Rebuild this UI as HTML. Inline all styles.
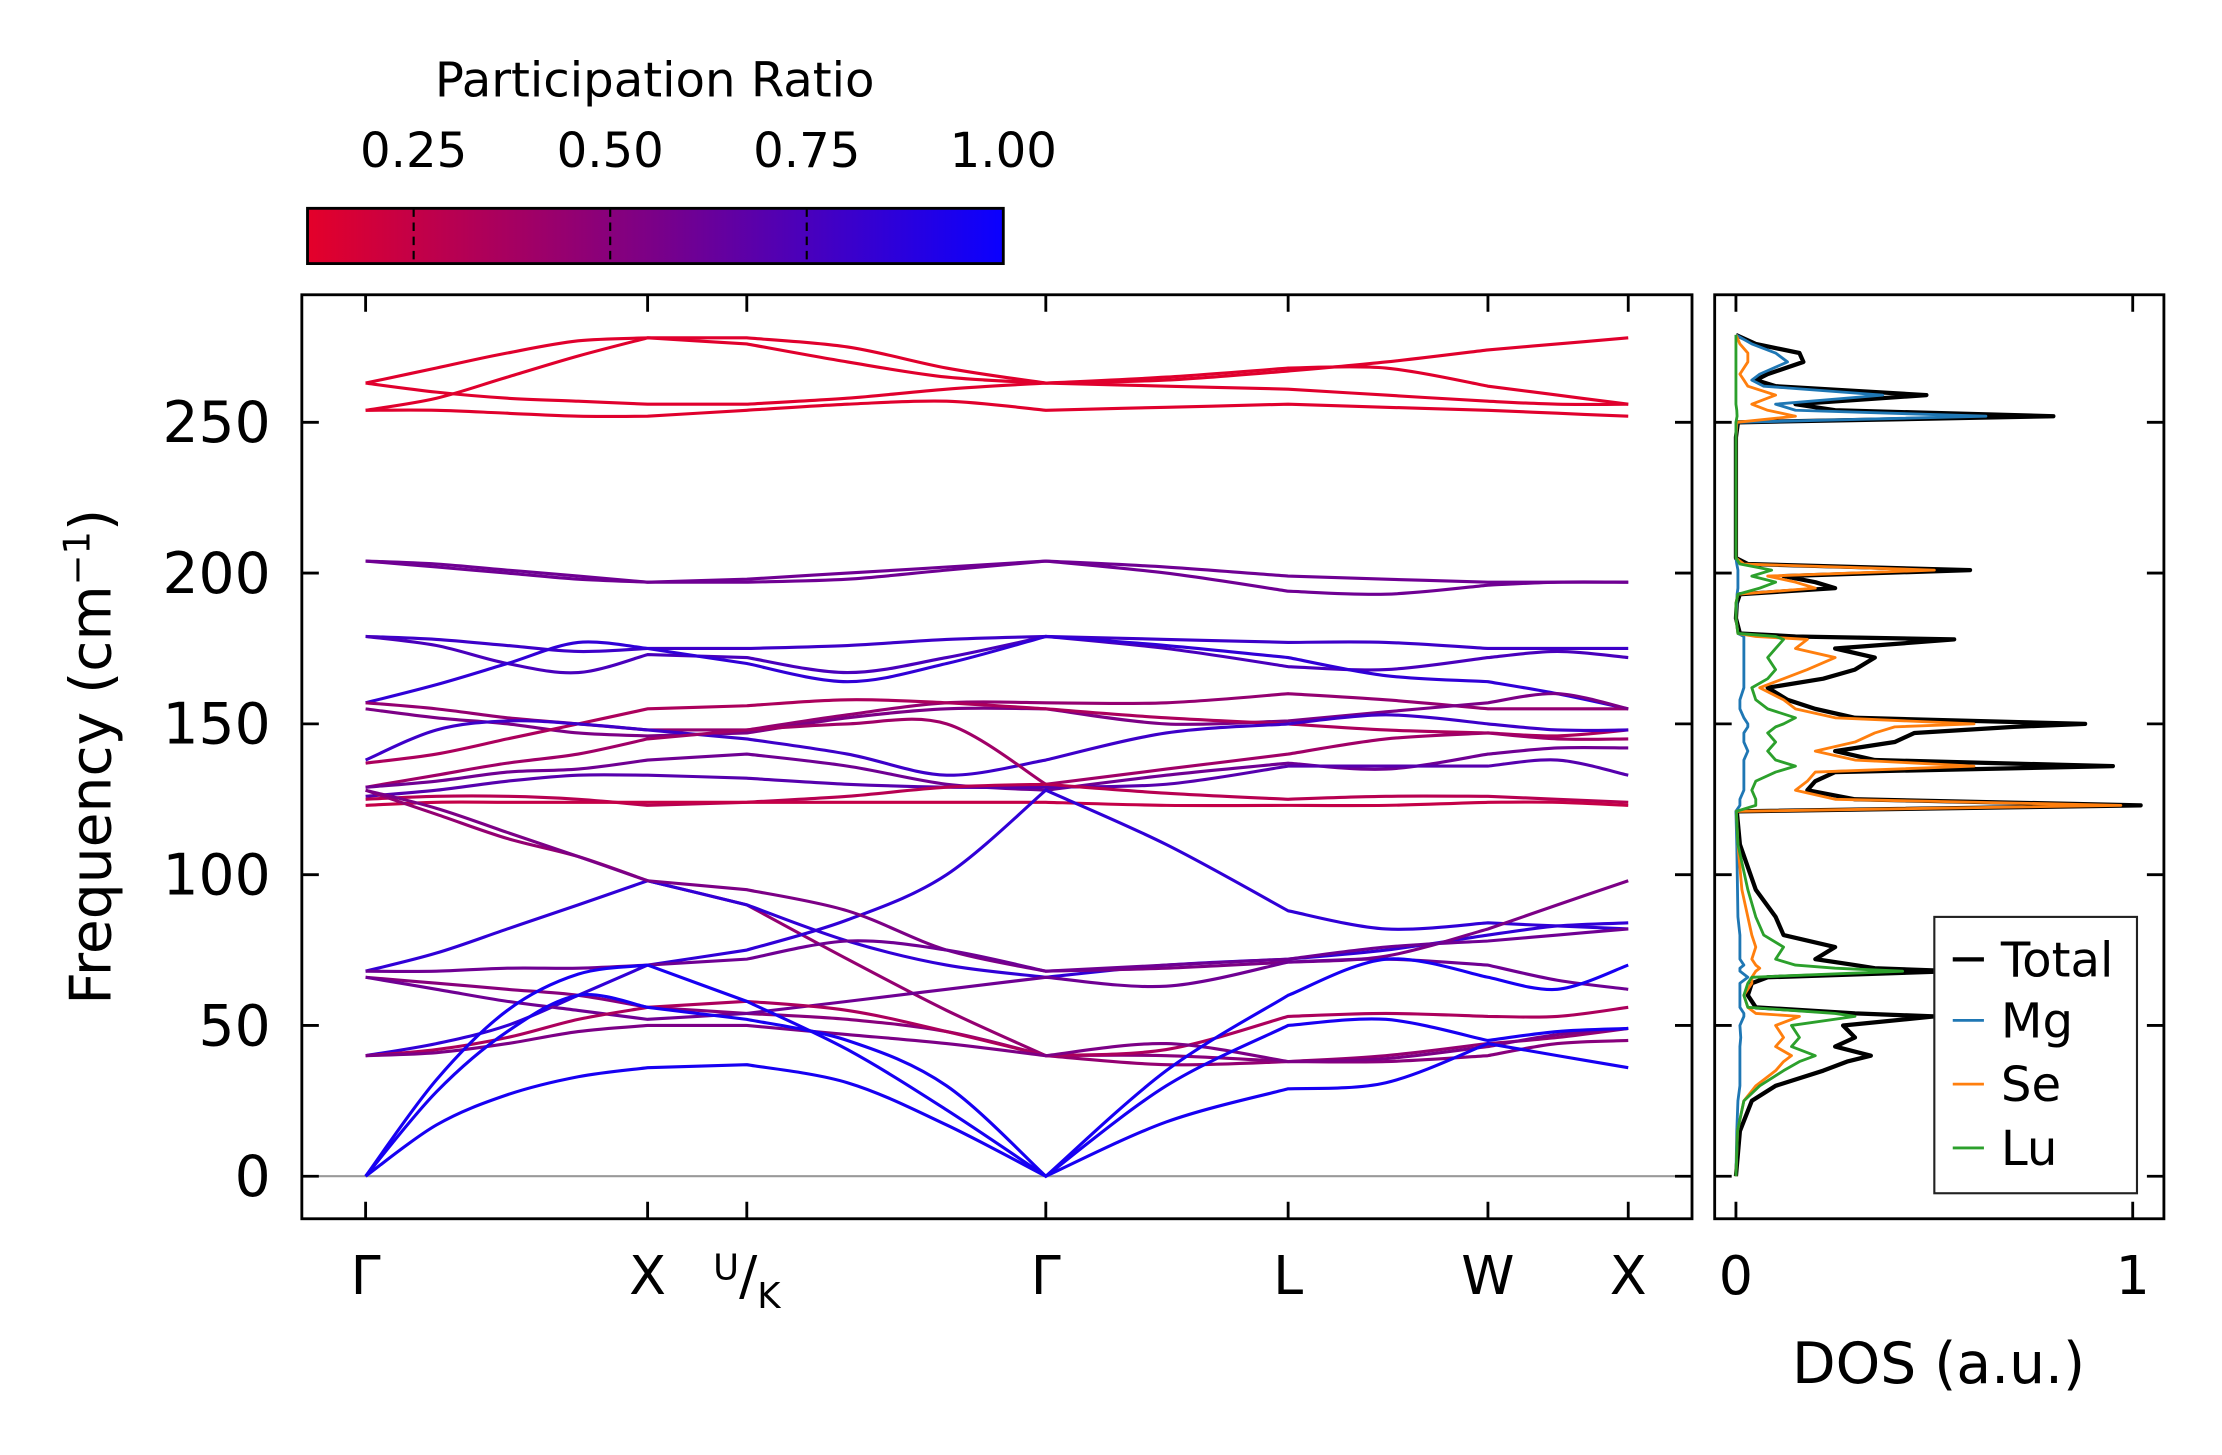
<!DOCTYPE html>
<html><head><meta charset="utf-8">
<style>html,body{margin:0;padding:0;background:#fff}svg{display:block}text{font-family:"DejaVu Sans","Liberation Sans",sans-serif;fill:#000}</style>
</head><body>
<svg id="chart" width="2222" height="1455" viewBox="0 0 1568 1026.7" preserveAspectRatio="none" xmlns="http://www.w3.org/2000/svg">
<defs>
<linearGradient id="cbg" x1="0" x2="1" y1="0" y2="0"><stop offset="0" stop-color="#e4002a"/><stop offset="0.5" stop-color="#7a0088"/><stop offset="1" stop-color="#0a00ff"/></linearGradient>
<clipPath id="clipMain"><rect x="213" y="208" width="981" height="652"/></clipPath>
<clipPath id="clipDos"><rect x="1210" y="208" width="317" height="652"/></clipPath>
</defs>
<g id="colorbar">
<text x="462" y="68" font-size="34" text-anchor="middle">Participation Ratio</text>
<rect x="217" y="147" width="491" height="39" fill="url(#cbg)" stroke="#000" stroke-width="2"/>
</g>
<g id="main"></g>
<g id="dos"></g>
<text transform="translate(78,534) rotate(-90)" font-size="40" text-anchor="middle">Frequency (cm<tspan baseline-shift="super" font-size="26">−1</tspan>)</text>
<text x="1368" y="976" font-size="40" text-anchor="middle">DOS (a.u.)</text>
</svg>
<script>
const NS="http://www.w3.org/2000/svg";
// ---- data ----
const kSamples=[0,50,100,150,199,269,340,410,480,565,651,720,792,841,891];
const kTickPos=[0,199,269,480,651,792,891];
const kTickLabels=["Γ","X","U/K","Γ","L","W","X"];
const yTicks=[0,50,100,150,200,250];
const cbTicks=[0.25,0.5,0.75,1.0];
const cbLabels=["0.25","0.50","0.75","1.00"];
const bandFreqs=[
[263,268,273,277,278,278,275,268,263,264,267,270,274,276,278],
[263,260,258,257,256,256,258,261,263,262,261,259,257,256,256],
[254,258,265,272,278,276,270,265,263,265,268,268,262,259,256],
[254,254,253,252,252,254,256,257,254,255,256,255,254,253,252],
[204,203,201,199,197,197,198,201,204,202,199,198,197,197,197],
[204,202,200,198,197,198,200,202,204,200,194,193,196,197,197],
[179,178,176,174,175,175,176,178,179,178,177,177,175,175,175],
[179,176,170,167,173,172,167,172,179,175,169,168,172,174,172],
[157,163,170,177,175,170,164,170,179,176,172,166,164,160,155],
[157,155,152,150,148,148,153,157,157,157,160,158,155,155,155],
[155,152,150,147,146,147,152,155,155,150,151,154,157,160,155],
[137,140,145,150,155,156,158,157,155,152,150,148,147,146,148],
[138,148,151,150,148,145,140,133,138,147,150,153,150,148,148],
[129,133,137,140,145,148,150,150,130,135,140,145,147,145,145],
[129,131,134,135,138,140,136,130,128,133,137,135,140,142,142],
[126,128,131,133,133,132,130,129,129,130,136,136,136,138,133],
[125,126,126,125,123,124,126,129,130,127,125,126,126,125,124],
[123,124,124,124,124,124,124,124,124,123,123,123,124,124,123],
[128,120,112,106,98,90,72,55,40,37,38,40,44,46,49],
[68,74,82,90,98,90,78,70,66,70,72,75,80,83,84],
[40,44,50,60,70,75,85,100,128,110,88,82,84,83,82],
[128,122,114,106,98,95,88,75,68,69,71,73,82,90,98],
[66,64,62,60,56,54,52,48,40,40,38,38,40,44,45],
[66,62,58,55,52,54,58,62,66,63,71,72,70,65,62],
[68,68,69,69,70,72,78,75,68,70,72,76,78,80,82],
[40,42,46,52,56,58,55,48,40,42,53,54,53,53,56],
[40,41,44,48,50,50,47,44,40,44,38,39,43,47,49],
[0,17,27,33,36,37,31,17,0,18,29,31,44,40,36],
[0,28,48,60,56,52,45,30,0,30,50,52,45,48,49],
[0,32,55,67,70,58,42,22,0,35,60,72,66,62,70]
];
const bandRatio=[0.13,0.13,0.13,0.13,0.6,0.6,0.8,0.75,0.85,0.45,0.55,0.35,0.8,0.4,0.6,0.7,0.3,0.25,0.45,0.85,0.85,0.55,0.5,0.6,0.6,0.35,0.55,0.95,0.95,0.95];
const dosFreq=[0,15,25,30,35,38,40,43,46,50,53,54,56,60,64,66,68,69,70,72,76,80,86,95,110,121,123,125,128,131,134,136,138,141,144,147,149,150,152,155,158,162,165,168,172,175,178,179,180,185,190,193,195,197,199,201,203,205,245,250,252,254,256,259,262,264,266,270,273,276,279];
const dosTotal=[0,.01,.04,.1,.22,.28,.34,.25,.30,.27,.50,.30,.05,.03,.04,.08,.55,.35,.30,.20,.25,.12,.10,.05,.01,.002,1.02,.30,.18,.20,.25,.95,.35,.25,.40,.45,.70,.88,.30,.20,.13,.08,.22,.30,.35,.25,.55,.15,.01,0,.002,.01,.25,.20,.12,.59,.03,0,0,.005,.80,.25,.15,.48,.10,.05,.08,.17,.16,.05,0];
const dosMg=[0,.002,.005,.01,.01,.01,.01,.01,.012,.01,.02,.02,.01,.01,.01,.03,.01,.01,.02,.01,.01,.01,.005,.004,.002,0,.01,.01,.02,.02,.02,.02,.02,.03,.02,.02,.03,.03,.02,.01,.01,.02,.02,.02,.02,.02,.02,.02,.005,0,.002,.003,.005,.005,.005,.005,.002,0,0,.003,.63,.15,.10,.37,.07,.04,.06,.13,.10,.04,0];
const dosSe=[0,.004,.02,.05,.10,.12,.14,.10,.12,.10,.16,.05,.03,.02,.04,.04,.05,.06,.05,.04,.05,.04,.03,.015,.005,.001,.97,.25,.15,.18,.20,.60,.30,.20,.30,.35,.40,.60,.25,.15,.12,.06,.12,.18,.25,.15,.18,.05,.005,0,0,.005,.20,.15,.08,.50,.02,0,0,.002,.15,.08,.04,.10,.03,.02,.01,.03,.03,.01,0];
const dosLu=[0,.004,.02,.06,.12,.16,.20,.14,.16,.14,.30,.25,.03,.02,.03,.04,.42,.25,.15,.10,.12,.07,.05,.03,.005,.001,.05,.05,.04,.05,.10,.15,.10,.08,.10,.08,.10,.12,.15,.08,.05,.04,.08,.10,.08,.10,.12,.10,.005,0,0,.005,.06,.10,.04,.09,.01,0,0,0,.003,.002,0,0,0,0,0,0,0,0,0];
const dosTicks=[0,1];
// ---- scales ----
const X0=258,KMAX=891;
const xK=k=>X0+k*(1149-258)/KMAX;
const yF=f=>830-f*106.4/50;
const xD=v=>1225+v*280;
const cbX=p=>217+(p-0.115)*(708-217)/(1-0.115);
function col(p){const t=Math.max(0,Math.min(1,(p-0.115)/(1-0.115)));const a=[228,0,42],m=[122,0,136],b=[10,0,255];let c;if(t<0.5){const u=t*2;c=a.map((v,i)=>v+(m[i]-v)*u);}else{const u=(t-0.5)*2;c=m.map((v,i)=>v+(b[i]-v)*u);}return `rgb(${c.map(Math.round).join(',')})`;}
function mk(tag,attrs,parent){const e=document.createElementNS(NS,tag);for(const k in attrs)e.setAttribute(k,attrs[k]);parent.appendChild(e);return e;}
function smoothSeg(pts,first){let d=first?`M${pts[0][0].toFixed(1)},${pts[0][1].toFixed(1)}`:'';for(let i=0;i<pts.length-1;i++){const p0=pts[Math.max(0,i-1)],p1=pts[i],p2=pts[i+1],p3=pts[Math.min(pts.length-1,i+2)];const c1=[p1[0]+(p2[0]-p0[0])/6,p1[1]+(p2[1]-p0[1])/6],c2=[p2[0]-(p3[0]-p1[0])/6,p2[1]-(p3[1]-p1[1])/6];d+=`C${c1[0].toFixed(1)},${c1[1].toFixed(1)} ${c2[0].toFixed(1)},${c2[1].toFixed(1)} ${p2[0].toFixed(1)},${p2[1].toFixed(1)}`;}return d;}
const breaks=kTickPos.map(k=>kSamples.indexOf(k));
function bandPath(pts){let d='';for(let s=0;s<breaks.length-1;s++){d+=smoothSeg(pts.slice(breaks[s],breaks[s+1]+1),s===0);}return d;}
const main=document.getElementById('main');
const dos=document.getElementById('dos');
const cb=document.getElementById('colorbar');
cbTicks.forEach((t,i)=>{
 const x=cbX(t);
 if(t<1){const l=mk('line',{x1:x,x2:x,y1:147,y2:186,stroke:'#000','stroke-width':1.5,'stroke-dasharray':'6,4'},cb);
 
 }
 const tx=mk('text',{x:x,y:118,'font-size':34,'text-anchor':'middle'},cb);tx.textContent=cbLabels[i];
 
 
});
const zl=mk('line',{x1:213,x2:1194,y1:yF(0),y2:yF(0),stroke:'#999','stroke-width':1.5},main);


const bg=mk('g',{'clip-path':'url(#clipMain)'},main);
bandFreqs.forEach((b,i)=>{
 const pts=b.map((f,j)=>[xK(kSamples[j]),yF(f)]);
 const p=mk('path',{d:bandPath(pts),fill:'none',stroke:col(bandRatio[i]),'stroke-width':2.2},bg);
 
 
});
const fr=mk('rect',{x:213,y:208,width:981,height:652,fill:'none',stroke:'#000','stroke-width':2},main);


yTicks.forEach(t=>{
 const y=yF(t);
 mk('line',{x1:213,x2:225,y1:y,y2:y,stroke:'#000','stroke-width':2},main);
 mk('line',{x1:1182,x2:1194,y1:y,y2:y,stroke:'#000','stroke-width':2},main);
 mk('line',{x1:1210,x2:1222,y1:y,y2:y,stroke:'#000','stroke-width':2},dos);
 mk('line',{x1:1515,x2:1527,y1:y,y2:y,stroke:'#000','stroke-width':2},dos);
 const tx=mk('text',{x:191,y:y+14,'font-size':40,'text-anchor':'end'},main);tx.textContent=t;
 
 
});
kTickPos.forEach((k,i)=>{
 const x=xK(k);
 mk('line',{x1:x,x2:x,y1:208,y2:220,stroke:'#000','stroke-width':2},main);
 mk('line',{x1:x,x2:x,y1:848,y2:860,stroke:'#000','stroke-width':2},main);
 const tx=mk('text',{x:x,y:913,'font-size':38,'text-anchor':'middle'},main);
 if(kTickLabels[i]==='U/K'){tx.innerHTML='<tspan font-size="25" dy="-10">U</tspan><tspan dy="10">/</tspan><tspan font-size="25" dy="10">K</tspan>';}
 else tx.textContent=kTickLabels[i];
 
 
});
const dg=mk('g',{'clip-path':'url(#clipDos)'},dos);
[[dosTotal,'#000',3,'dos-total'],[dosMg,'#1f77b4',2,'dos-mg'],[dosSe,'#ff7f0e',2,'dos-se'],[dosLu,'#2ca02c',2,'dos-lu']].forEach(([arr,c,w,n])=>{
 const pts=arr.map((v,j)=>`${xD(v).toFixed(1)},${yF(dosFreq[j]).toFixed(1)}`).join(' ');
 const pl=mk('polyline',{points:pts,fill:'none',stroke:c,'stroke-width':w,'stroke-linejoin':'round'},dg);
 
 
});
const df=mk('rect',{x:1210,y:208,width:317,height:652,fill:'none',stroke:'#000','stroke-width':2},dos);


dosTicks.forEach(t=>{
 const x=xD(t);
 mk('line',{x1:x,x2:x,y1:208,y2:220,stroke:'#000','stroke-width':2},dos);
 mk('line',{x1:x,x2:x,y1:848,y2:860,stroke:'#000','stroke-width':2},dos);
 const tx=mk('text',{x:x,y:913,'font-size':38,'text-anchor':'middle'},dos);tx.textContent=t;
 
 
});
const lg=mk('g',{},dos);


mk('rect',{x:1365,y:647,width:143,height:195,fill:'#fff',stroke:'#222','stroke-width':1.5},lg);
[['Total','#000',677],['Mg','#1f77b4',720],['Se','#ff7f0e',765],['Lu','#2ca02c',810]].forEach(([n,c,y])=>{
 const e=mk('g',{},lg);
 
 
 mk('line',{x1:1378,x2:1400,y1:y,y2:y,stroke:c,'stroke-width':n==='Total'?3:2},e);
 const tx=mk('text',{x:1412,y:y+12,'font-size':34},e);tx.textContent=n;
});
</script>
</body></html>
